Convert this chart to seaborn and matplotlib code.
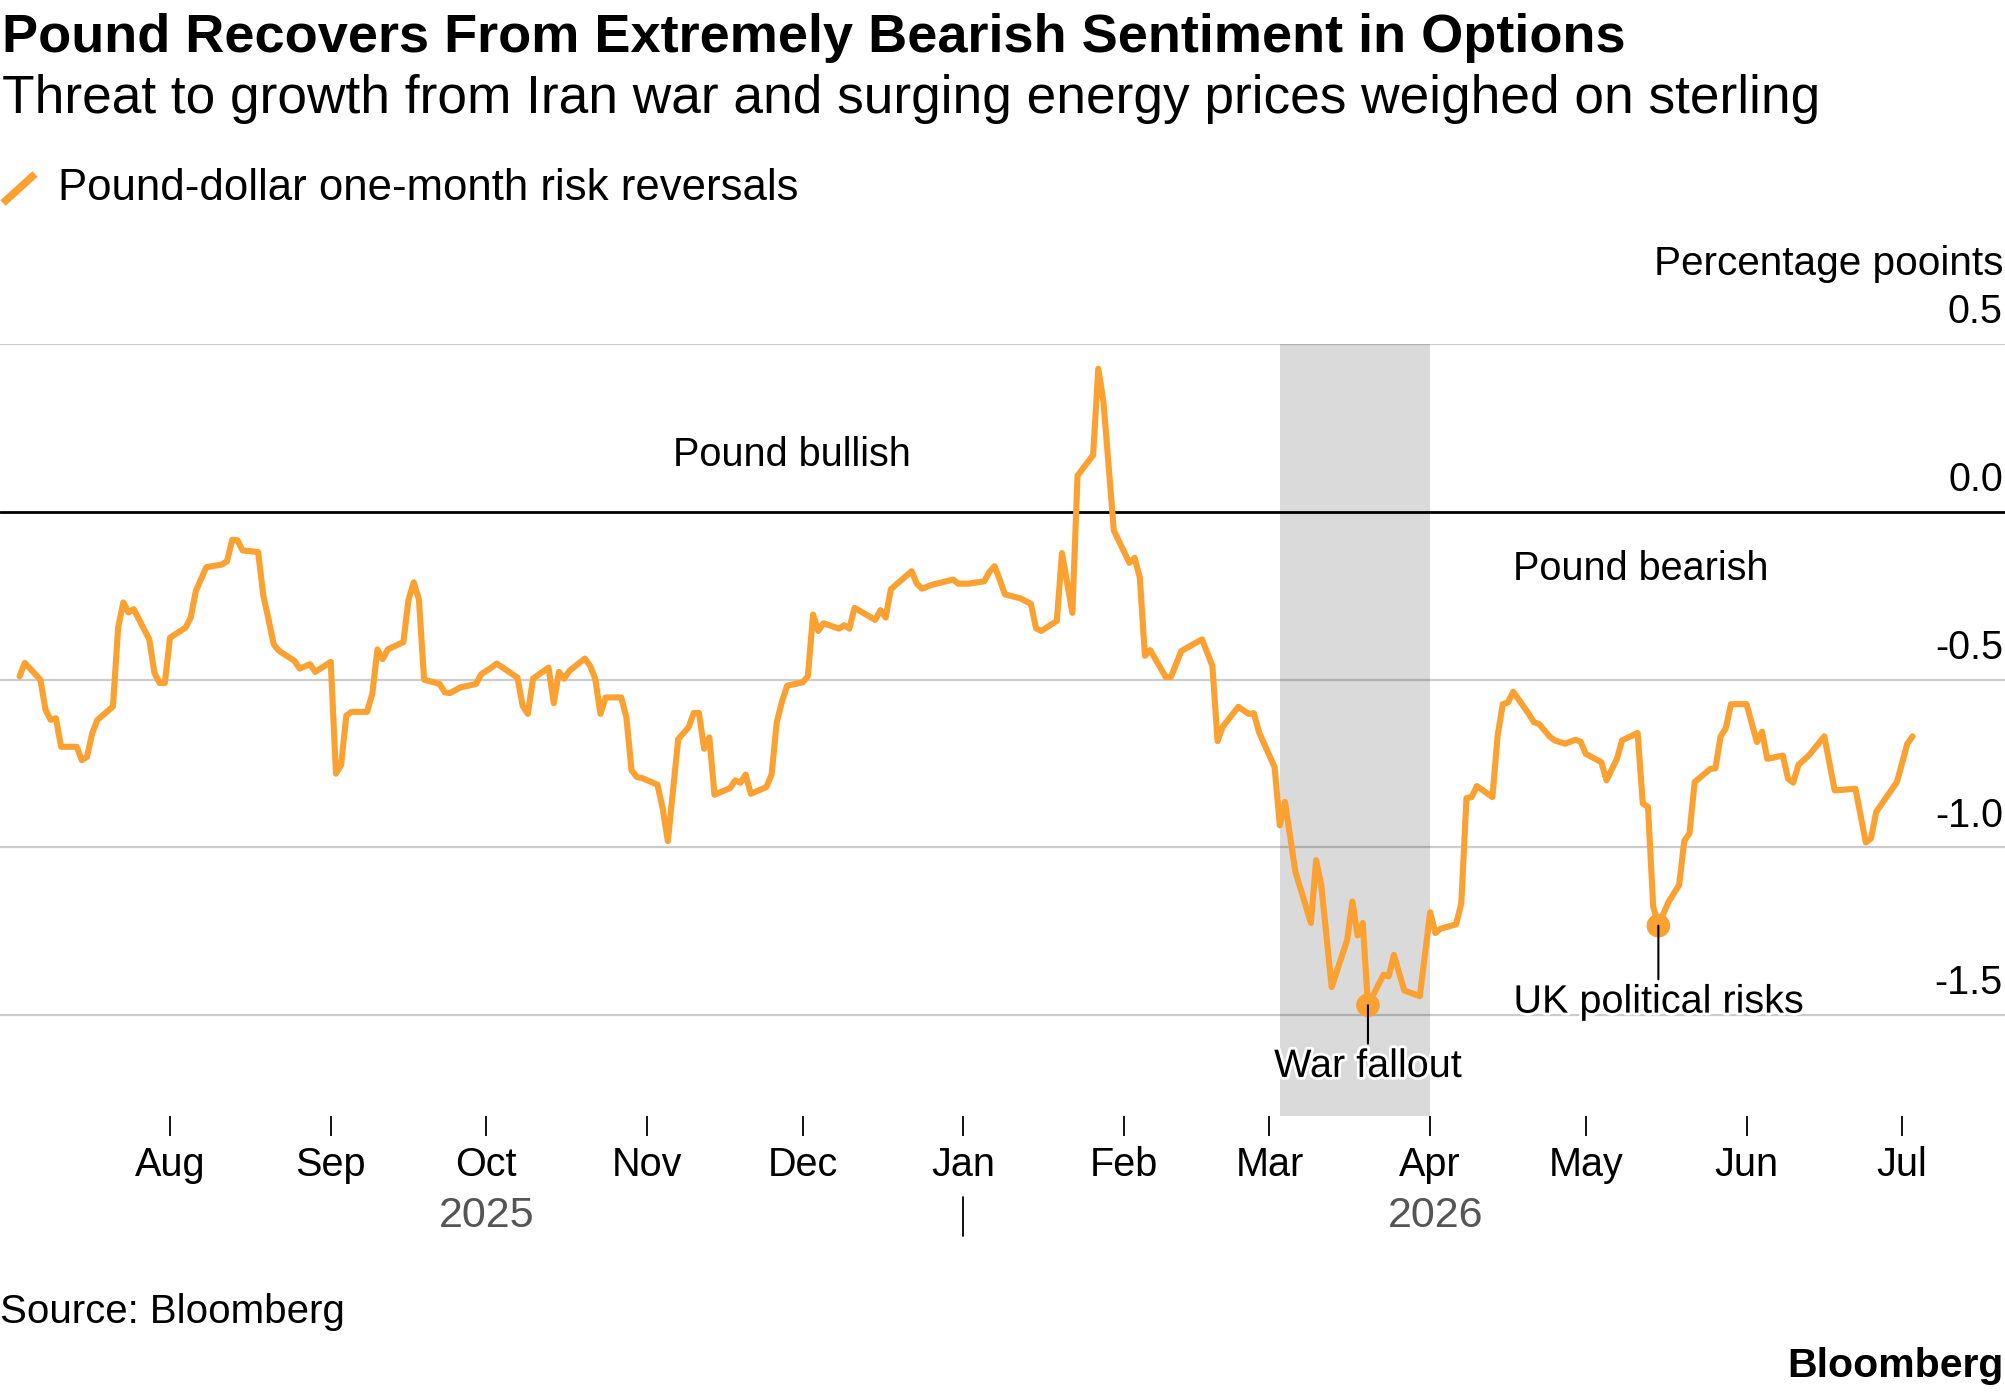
import matplotlib
matplotlib.use("Agg")
import matplotlib.pyplot as plt
import matplotlib.dates as mdates
import matplotlib.transforms as mtransforms
import matplotlib.patheffects as pe
from matplotlib.lines import Line2D
import seaborn as sns
import pandas as pd

# Pound-dollar one-month risk reversals
dates = [
    "2025-07-03", "2025-07-04", "2025-07-07", "2025-07-08", "2025-07-09", "2025-07-10", "2025-07-11",
    "2025-07-14", "2025-07-15", "2025-07-16", "2025-07-17", "2025-07-18", "2025-07-21", "2025-07-22",
    "2025-07-23", "2025-07-24", "2025-07-25", "2025-07-28", "2025-07-29", "2025-07-30", "2025-07-31",
    "2025-08-01", "2025-08-04", "2025-08-05", "2025-08-06", "2025-08-08", "2025-08-11", "2025-08-12",
    "2025-08-13", "2025-08-14", "2025-08-15", "2025-08-18", "2025-08-19", "2025-08-20", "2025-08-21",
    "2025-08-22", "2025-08-25", "2025-08-26", "2025-08-28", "2025-08-29", "2025-09-01", "2025-09-02",
    "2025-09-03", "2025-09-04", "2025-09-05", "2025-09-08", "2025-09-09", "2025-09-10", "2025-09-11",
    "2025-09-12", "2025-09-15", "2025-09-16", "2025-09-17", "2025-09-18", "2025-09-19", "2025-09-22",
    "2025-09-23", "2025-09-24", "2025-09-26", "2025-09-29", "2025-09-30", "2025-10-02", "2025-10-03",
    "2025-10-07", "2025-10-08", "2025-10-09", "2025-10-10", "2025-10-13", "2025-10-14", "2025-10-15",
    "2025-10-16", "2025-10-17", "2025-10-20", "2025-10-21", "2025-10-22", "2025-10-23", "2025-10-24",
    "2025-10-27", "2025-10-28", "2025-10-29", "2025-10-30", "2025-10-31", "2025-11-03", "2025-11-04",
    "2025-11-05", "2025-11-07", "2025-11-09", "2025-11-10", "2025-11-11", "2025-11-12", "2025-11-13",
    "2025-11-14", "2025-11-17", "2025-11-18", "2025-11-19", "2025-11-20", "2025-11-21", "2025-11-24",
    "2025-11-25", "2025-11-26", "2025-11-27", "2025-11-28", "2025-12-01", "2025-12-02", "2025-12-03",
    "2025-12-04", "2025-12-05", "2025-12-08", "2025-12-09", "2025-12-10", "2025-12-11", "2025-12-15",
    "2025-12-16", "2025-12-17", "2025-12-18", "2025-12-19", "2025-12-22", "2025-12-23", "2025-12-24",
    "2025-12-26", "2025-12-30", "2025-12-31", "2026-01-02", "2026-01-05", "2026-01-06", "2026-01-07",
    "2026-01-08", "2026-01-09", "2026-01-12", "2026-01-14", "2026-01-15", "2026-01-16", "2026-01-19",
    "2026-01-20", "2026-01-22", "2026-01-23", "2026-01-26", "2026-01-27", "2026-01-28", "2026-01-30",
    "2026-02-02", "2026-02-03", "2026-02-04", "2026-02-05", "2026-02-06", "2026-02-09", "2026-02-10",
    "2026-02-12", "2026-02-13", "2026-02-16", "2026-02-18", "2026-02-19", "2026-02-20", "2026-02-23",
    "2026-02-25", "2026-02-26", "2026-02-27", "2026-03-02", "2026-03-03", "2026-03-04", "2026-03-06",
    "2026-03-09", "2026-03-10", "2026-03-11", "2026-03-13", "2026-03-16", "2026-03-17", "2026-03-18",
    "2026-03-19", "2026-03-20", "2026-03-23", "2026-03-24", "2026-03-25", "2026-03-27", "2026-03-30",
    "2026-04-01", "2026-04-02", "2026-04-03", "2026-04-06", "2026-04-07", "2026-04-08", "2026-04-09",
    "2026-04-10", "2026-04-13", "2026-04-14", "2026-04-15", "2026-04-16", "2026-04-17", "2026-04-20",
    "2026-04-21", "2026-04-22", "2026-04-24", "2026-04-25", "2026-04-27", "2026-04-29", "2026-04-30",
    "2026-05-01", "2026-05-04", "2026-05-05", "2026-05-07", "2026-05-08", "2026-05-11", "2026-05-12",
    "2026-05-13", "2026-05-14", "2026-05-15", "2026-05-17", "2026-05-19", "2026-05-20", "2026-05-21",
    "2026-05-22", "2026-05-25", "2026-05-26", "2026-05-27", "2026-05-28", "2026-05-29", "2026-06-01",
    "2026-06-03", "2026-06-04", "2026-06-05", "2026-06-08", "2026-06-09", "2026-06-10", "2026-06-11",
    "2026-06-13", "2026-06-16", "2026-06-18", "2026-06-22", "2026-06-24", "2026-06-25", "2026-06-26",
    "2026-06-30", "2026-07-02", "2026-07-03",
]
values = [
    -0.49, -0.45, -0.50, -0.59, -0.62, -0.615, -0.70,
    -0.70, -0.74, -0.73, -0.66, -0.62, -0.58, -0.345,
    -0.27, -0.30, -0.29, -0.38, -0.48, -0.51, -0.51,
    -0.375, -0.345, -0.315, -0.235, -0.165, -0.157, -0.147,
    -0.083, -0.085, -0.115, -0.12, -0.25, -0.32, -0.395,
    -0.414, -0.444, -0.467, -0.454, -0.477, -0.447, -0.78,
    -0.754, -0.607, -0.596, -0.596, -0.543, -0.41, -0.439,
    -0.41, -0.388, -0.261, -0.21, -0.261, -0.50, -0.513,
    -0.538, -0.54, -0.523, -0.513, -0.484, -0.464, -0.452,
    -0.494, -0.578, -0.602, -0.497, -0.464, -0.57, -0.477,
    -0.497, -0.474, -0.437, -0.459, -0.497, -0.602, -0.553,
    -0.553, -0.612, -0.77, -0.79, -0.793, -0.813, -0.884,
    -0.981, -0.677, -0.642, -0.599, -0.599, -0.706, -0.672,
    -0.843, -0.823, -0.80, -0.807, -0.783, -0.84, -0.82,
    -0.783, -0.627, -0.566, -0.518, -0.508, -0.49, -0.306,
    -0.355, -0.332, -0.348, -0.338, -0.348, -0.286, -0.322,
    -0.293, -0.315, -0.231, -0.217, -0.177, -0.214, -0.229,
    -0.217, -0.202, -0.214, -0.214, -0.207, -0.179, -0.162,
    -0.202, -0.246, -0.258, -0.274, -0.347, -0.355, -0.325,
    -0.123, -0.301, 0.108, 0.169, 0.426, 0.327, -0.056,
    -0.152, -0.137, -0.195, -0.429, -0.412, -0.492, -0.492,
    -0.415, -0.406, -0.38, -0.459, -0.683, -0.64, -0.581,
    -0.602, -0.60, -0.657, -0.761, -0.934, -0.864, -1.072,
    -1.225, -1.038, -1.112, -1.416, -1.275, -1.161, -1.262,
    -1.225, -1.47, -1.379, -1.384, -1.32, -1.426, -1.443,
    -1.193, -1.255, -1.242, -1.229, -1.166, -0.853, -0.85,
    -0.817, -0.85, -0.667, -0.573, -0.568, -0.536, -0.602,
    -0.627, -0.632, -0.669, -0.681, -0.691, -0.679, -0.685,
    -0.721, -0.746, -0.80, -0.736, -0.681, -0.659, -0.869,
    -0.879, -1.176, -1.233, -1.161, -1.112, -0.98, -0.958,
    -0.805, -0.766, -0.764, -0.669, -0.645, -0.573, -0.573,
    -0.686, -0.655, -0.736, -0.726, -0.795, -0.807, -0.754,
    -0.726, -0.669, -0.83, -0.825, -0.985, -0.973, -0.894,
    -0.805, -0.691, -0.669,
]

month_ticks = ["2025-08-01", "2025-09-01", "2025-10-01", "2025-11-01", "2025-12-01", "2026-01-01",
               "2026-02-01", "2026-03-01", "2026-04-01", "2026-05-01", "2026-06-01", "2026-07-01"]
years = ["2025", "2026"]
year_centres = ["2025-10-01", "2026-04-02"]
year_break = "2026-01-01"
yticks = [0.5, 0.0, -0.5, -1.0, -1.5]
shade_start, shade_end = "2026-03-03", "2026-04-01"
callout_labels = ["War fallout", "UK political risks"]
callout_dates = ["2026-03-20", "2026-05-15"]
callout_offsets = [30, 41]  # points below the dot

ORANGE = "#FBA132"

sns.set_theme(style="white")
plt.rcParams["font.family"] = ["Liberation Sans", "DejaVu Sans"]
plt.rcParams["text.color"] = "black"
plt.rcParams["xtick.color"] = "black"

df = pd.DataFrame({"date": pd.to_datetime(dates), "value": values})

W, H = 2005, 1392
fig = plt.figure(figsize=(W / 100, H / 100), dpi=100)
ax = fig.add_axes([0, 1 - 1116 / H, 1, 772 / H])

# shaded war period
ax.axvspan(pd.Timestamp(shade_start), pd.Timestamp(shade_end), color="#dadada", lw=0, zorder=0)

# gridlines and zero line
for v in yticks:
    if v == 0:
        ax.axhline(v, color="black", lw=2.0, zorder=2)
    else:
        ax.axhline(v, color="black", alpha=0.2, lw=1.6, zorder=1)

sns.lineplot(data=df, x="date", y="value", color=ORANGE, ax=ax,
             estimator=None, zorder=3, solid_joinstyle="round")
ax.lines[-1].set_linewidth(4.4)

pts = df[df["date"].isin(pd.to_datetime(callout_dates))]
sns.scatterplot(data=pts, x="date", y="value", color=ORANGE, s=290, edgecolor="none",
                ax=ax, zorder=4, legend=False)

halo = [pe.withStroke(linewidth=4, foreground="white")]
for label, d, off in zip(callout_labels, callout_dates, callout_offsets):
    row = df[df["date"] == pd.Timestamp(d)].iloc[0]
    ax.annotate(label, xy=(row["date"], row["value"]), xytext=(0, -off), textcoords="offset points",
                ha="center", va="top", fontsize=28.5, color="black", path_effects=halo, zorder=5,
                arrowprops=dict(arrowstyle="-", color="black", lw=1.5, shrinkA=0, shrinkB=0))

ax.text(pd.Timestamp("2025-11-06"), 0.137, "Pound bullish", fontsize=28.5, ha="left", va="baseline")
ax.text(pd.Timestamp("2026-04-17"), -0.203, "Pound bearish", fontsize=28.5, ha="left", va="baseline")

base = pd.Timestamp("2025-08-01")
ax.set_xlim(base - pd.Timedelta(days=32.78), base + pd.Timedelta(days=353.84))
ax.set_ylim(-1.8, 0.5)

# y labels sit above their gridlines at the right edge
ytrans = mtransforms.blended_transform_factory(ax.transAxes, ax.transData)
for v in yticks:
    ax.annotate(f"{v:.1f}", xy=(1, v), xycoords=ytrans, xytext=(-1.5, 15), textcoords="offset points",
                ha="right", va="baseline", fontsize=28.5)
ax.set_yticks([])

ax.set_xticks(pd.to_datetime(month_ticks))
ax.xaxis.set_major_formatter(mdates.DateFormatter("%b"))
ax.tick_params(axis="x", bottom=True, length=14.4, width=1.3, color="black", pad=7,
               labelsize=28.5, labelcolor="black")
ax.set_xlabel("")
ax.set_ylabel("")
for s in ax.spines.values():
    s.set_visible(False)

# year row under the months
xtrans = mtransforms.blended_transform_factory(ax.transData, ax.transAxes)
for yr, c in zip(years, year_centres):
    ax.text(pd.Timestamp(c), -0.1438, yr, transform=xtrans, ha="center", va="baseline",
            fontsize=31, color="#555555")
ax.plot([pd.Timestamp(year_break)] * 2, [-0.105, -0.155], transform=xtrans, color="black",
        lw=1.3, clip_on=False)

# titles, legend, notes
fig.text(0.0008, 1 - 52 / H, "Pound Recovers From Extremely Bearish Sentiment in Options",
         fontsize=39, fontweight="bold", va="baseline")
fig.text(0.0008, 1 - 113 / H, "Threat to growth from Iran war and surging energy prices weighed on sterling",
         fontsize=38.3, va="baseline")
fig.add_artist(Line2D([3 / W, 35 / W], [1 - 203 / H, 1 - 174 / H], color=ORANGE, lw=5.5,
                      solid_capstyle="butt", transform=fig.transFigure))
fig.text(58 / W, 1 - 200 / H, "Pound-dollar one-month risk reversals", fontsize=31.5, va="baseline")
fig.text(2003 / W, 1 - 275 / H, "Percentage pooints", fontsize=29.2, ha="right", va="baseline")
fig.text(0, 1 - 1323 / H, "Source: Bloomberg", fontsize=29, va="baseline")
fig.text(2003 / W, 1 - 1377 / H, "Bloomberg", fontsize=29.5, fontweight="bold", ha="right", va="baseline")

fig.savefig("out.png", dpi=100)
